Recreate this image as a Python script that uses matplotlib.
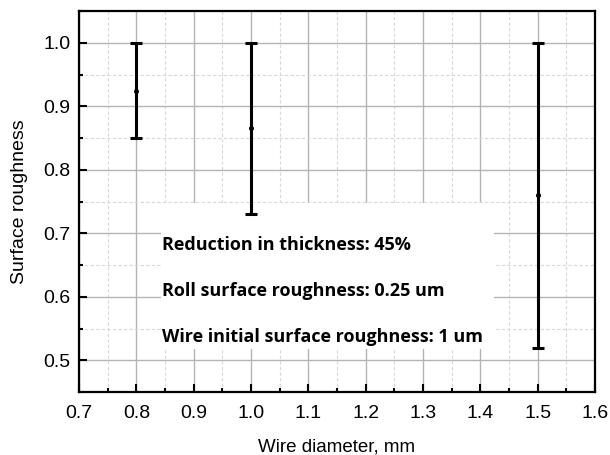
import matplotlib.pyplot as plt
from matplotlib.ticker import MultipleLocator
from matplotlib.patches import Rectangle

# wire diameter vs surface roughness range
diameters = [0.8, 1.0, 1.5]
rough_mid = [0.924, 0.865, 0.76]
rough_low = [0.85, 0.73, 0.52]
rough_high = [1.0, 1.0, 1.0]
notes = ["Reduction in thickness: 45%",
         "Roll surface roughness: 0.25 um",
         "Wire initial surface roughness: 1 um"]

plt.rcParams['font.family'] = ['Liberation Sans', 'DejaVu Sans']

fig = plt.figure(figsize=(6.1, 4.55), dpi=100)
ax = fig.add_axes([79 / 610, 1 - 392 / 455, 516 / 610, 381 / 455])

err_lo = [m - l for m, l in zip(rough_mid, rough_low)]
err_hi = [h - m for m, h in zip(rough_mid, rough_high)]
ax.errorbar(diameters, rough_mid, yerr=[err_lo, err_hi], fmt='o', ms=2.6,
            color='black', ecolor='black', elinewidth=2.2, capsize=4,
            capthick=2.2, zorder=5)

ax.set_xlim(0.7, 1.6)
ax.set_ylim(0.45, 1.05)
ax.xaxis.set_major_locator(MultipleLocator(0.1))
ax.xaxis.set_minor_locator(MultipleLocator(0.05))
ax.yaxis.set_major_locator(MultipleLocator(0.1))
ax.yaxis.set_minor_locator(MultipleLocator(0.05))
ax.xaxis.set_major_formatter(plt.FormatStrFormatter('%.1f'))
ax.yaxis.set_major_formatter(plt.FormatStrFormatter('%.1f'))

ax.grid(True, which='major', color='#b4b4b4', lw=1.0)
ax.grid(True, which='minor', color='#d8d8d8', lw=0.8, ls=(0, (3, 2)))
ax.set_axisbelow(True)

ax.tick_params(which='both', direction='in', labelsize=14, width=1.5)
ax.tick_params(which='major', length=6)
ax.tick_params(which='minor', length=3)
ax.tick_params(axis='x', pad=9)
ax.tick_params(axis='y', pad=6)
for sp in ax.spines.values():
    sp.set_linewidth(1.6)

ax.set_xlabel('Wire diameter, mm', fontsize=13.5, labelpad=12)
ax.set_ylabel('Surface roughness', fontsize=14, labelpad=11)

# white panel behind the notes
ax.add_patch(Rectangle((0.8425, 0.5175), 0.582, 0.23, transform=ax.transData,
                       facecolor='white', edgecolor='none', zorder=3))
for i, s in enumerate(notes):
    ax.text(0.845, 0.682 - i * 0.073, s, fontsize=13, fontweight='bold',
            family=['Open Sans', 'DejaVu Sans'], va='center', ha='left', zorder=4)

fig.savefig('out.png', dpi=100)
